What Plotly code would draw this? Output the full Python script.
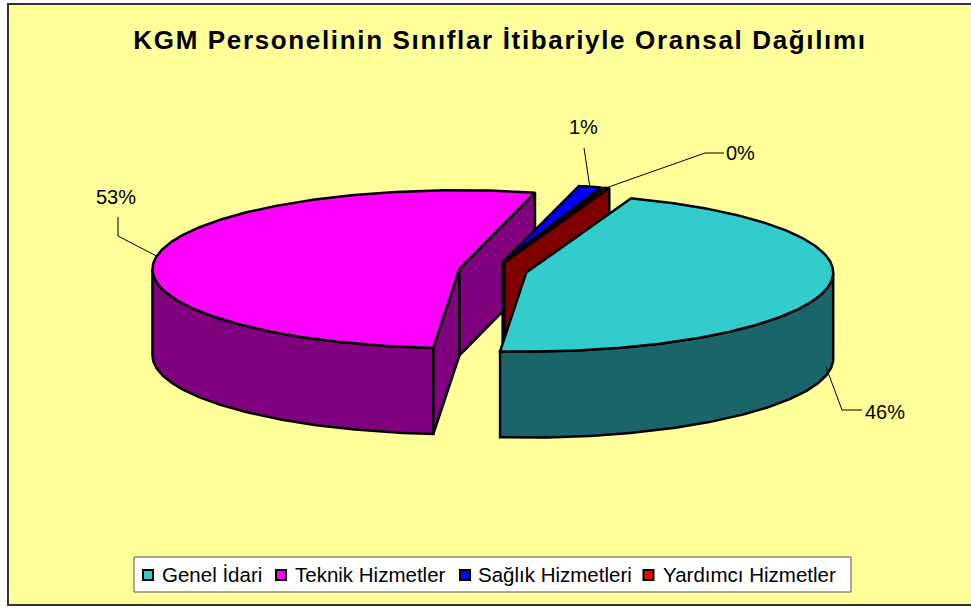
import numpy as np
import plotly.graph_objects as go

title = "KGM Personelinin Sınıflar İtibariyle Oransal Dağılımı"
categories = ["Genel İdari", "Teknik Hizmetler", "Sağlık Hizmetleri", "Yardımcı Hizmetler"]
values = [45.8, 52.6, 1.25, 0.35]
top_colors = ["#33CCCC", "#FF00FF", "#0000FF", "#800000"]
wall_colors = ["#1A6569", "#800080", "#000080", "#800000"]
legend_colors = ["#33CCCC", "#FF00FF", "#0000FF", "#FF0000"]

# projection of the tilted pie on the page
CX, CY = 493.0, 270.7
RX, RY = 307.0, 79.0
DEPTH = 86.0
EXPLODE = 34.0
FIRST_ANGLE = 20.0
EDGE = 2.5

total = sum(values)
spans = [v / total * 360 for v in values]
starts = [FIRST_ANGLE + sum(spans[:i]) for i in range(len(values))]


def pt(center, a, r=1.0):
    t = np.radians(a)
    return center[0] + RX * r * np.sin(t), center[1] - RY * r * np.cos(t)


def center_of(i):
    mid = np.radians(starts[i] + spans[i] / 2)
    return CX + EXPLODE * np.sin(mid), CY - EXPLODE * (RY / RX) * np.cos(mid)


def poly(xs, ys, fill):
    return go.Scatter(x=list(xs) + [xs[0]], y=list(ys) + [ys[0]], mode="lines", fill="toself",
                      fillcolor=fill, line=dict(color="black", width=EDGE), hoverinfo="skip",
                      showlegend=False)


traces = []
for i in [1, 2, 3, 0]:  # back to front
    c = center_of(i)
    a0, a1 = starts[i], starts[i] + spans[i]
    # outer wall: the part of the rim that faces the viewer
    for lo, hi in [(90, 270), (450, 630)]:
        s, e = max(a0, lo), min(a1, hi)
        if e > s:
            arc = np.linspace(s, e, 120)
            x, y = pt(c, arc)
            traces.append(poly(np.r_[x, x[::-1]], np.r_[y, y[::-1] + DEPTH], wall_colors[i]))
    # top face
    arc = np.linspace(a0, a1, 240)
    x, y = pt(c, arc)
    traces.append(poly(np.r_[c[0], x], np.r_[c[1], y], top_colors[i]))
    # radial cut faces that can be seen
    for a, sign in [(a0, -1), (a1, 1)]:
        if sign * np.sin(np.radians(a)) > 0:
            px, py = pt(c, a)
            traces.append(poly([c[0], px, px, c[0]], [c[1], py, py + DEPTH, c[1] + DEPTH], wall_colors[i]))

# percentage labels and leader lines
label_pos = [(885, 412), (116, 197), (583, 127), (740, 153)]
elbows = [[(842, 410), (862, 410)], [(118, 236), (118, 217)], [(584, 148)], [(705, 153), (724, 153)]]
depth_frac = [0.9, 0, 0, 0]
annotations = []
for i in range(4):
    c = center_of(i)
    px, py = pt(c, starts[i] + spans[i] / 2)
    py += DEPTH * depth_frac[i]
    lx = [px] + [p[0] for p in elbows[i]]
    ly = [py] + [p[1] for p in elbows[i]]
    traces.append(go.Scatter(x=lx, y=ly, mode="lines", line=dict(color="black", width=1),
                             hoverinfo="skip", showlegend=False))
    annotations.append(dict(x=label_pos[i][0], y=label_pos[i][1], xref="x", yref="y", showarrow=False,
                            text=f"{round(values[i])}%", font=dict(size=20, color="black")))

# legend: box, swatches and names
swatch_x = [148, 281, 465, 648.5]
text_x = [162, 295, 478, 663]
LEG_Y = 575
traces.append(go.Scatter(x=swatch_x, y=[LEG_Y] * 4, mode="markers", hoverinfo="skip", showlegend=False,
                         marker=dict(symbol="square", size=10, color=legend_colors,
                                     line=dict(color="black", width=2))))
for name, tx in zip(categories, text_x):
    annotations.append(dict(x=tx, y=LEG_Y - 1, xref="x", yref="y", xanchor="left", showarrow=False, text=name,
                            xshift=-2, font=dict(size=20.5, color="black")))

fig = go.Figure(traces)
fig.update_layout(
    width=971, height=610, autosize=False,
    margin=dict(l=0, r=0, t=0, b=0),
    paper_bgcolor="white", plot_bgcolor="white",
    font=dict(family="Liberation Sans, Arial, sans-serif", color="black"),
    title=dict(text=f"<b>{title}</b>", x=500 / 971, xanchor="center", xref="paper", y=1 - 40 / 610, yanchor="middle",
               font=dict(size=26, color="black")),
    xaxis=dict(range=[0, 971], visible=False, fixedrange=True),
    yaxis=dict(range=[610, 0], visible=False, fixedrange=True),
    shapes=[dict(type="rect", xref="x", yref="y", x0=8, y0=4, x1=985, y1=605, layer="below",
                 fillcolor="#FFFF99", line=dict(color="#333333", width=2)),
            dict(type="rect", xref="x", yref="y", x0=134, y0=557, x1=851, y1=592, layer="below",
                 fillcolor="white", line=dict(color="#555555", width=1))],
    annotations=annotations,
    showlegend=False,
)
css = ("var s=document.createElement('style');"
       "s.textContent='html,body{margin:0;padding:0;overflow:hidden}.gtitle{letter-spacing:1.65px}';"
       "document.head.appendChild(s);")
fig.write_html("out.html", config={"displayModeBar": False}, post_script=css)
